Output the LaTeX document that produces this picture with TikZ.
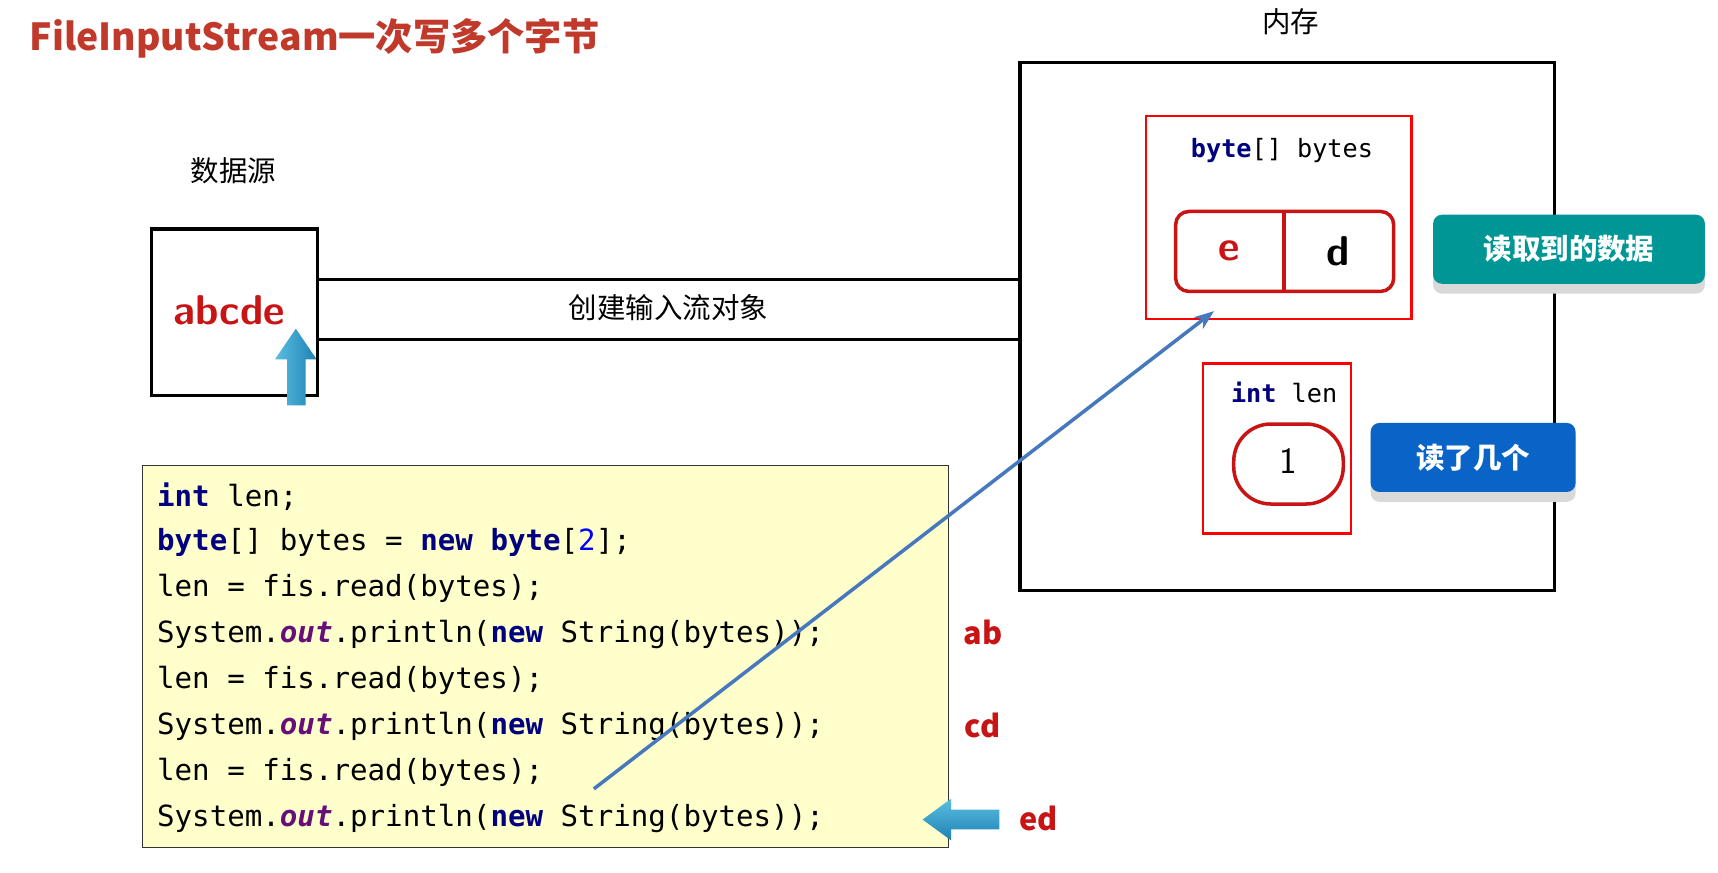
\documentclass[tikz,border=0pt]{standalone}
\usepackage{fontspec}
\setmainfont{Noto Sans CJK SC}
\newfontfamily\cjk{Noto Sans CJK SC}
\newfontfamily\cmono{DejaVu Sans Mono}
\usetikzlibrary{arrows.meta}
\definecolor{tred}{RGB}{192,57,43}
\definecolor{kw}{RGB}{0,0,128}
\definecolor{pur}{RGB}{102,14,122}
\definecolor{cred}{RGB}{200,20,20}
\definecolor{teal}{RGB}{0,150,150}
\definecolor{bbl}{RGB}{10,100,200}
\definecolor{cy}{RGB}{90,190,225}
\definecolor{cyd}{RGB}{30,130,180}
\definecolor{ln}{RGB}{70,120,190}
\begin{document}
\begin{tikzpicture}[x=0.5pt,y=-0.5pt,
  code/.style={anchor=west,font=\cmono\fontsize{13.3}{15}\selectfont,inner sep=0},
  lab/.style={font=\cjk\bfseries\fontsize{14}{16}\selectfont,text=cred},
  big/.style={font=\sffamily\bfseries\fontsize{19}{21}\selectfont},
  btn/.style={font=\cjk\bfseries\fontsize{13}{15}\selectfont,text=white,rounded corners=4pt}]
\useasboundingbox (0,0) rectangle (1568,796);
\fill[white] (0,0) rectangle (1568,796);
\node[anchor=west,font=\cjk\bfseries\fontsize{17}{20}\selectfont,text=tred] (title) at (20,35) {FileInputStream一次写多个字节};
\node[font=\cjk\fontsize{13}{15}\selectfont] (mem) at (1178,20) {内存};
\draw[line width=1.5pt] (931,57) rectangle (1419,539);
\node[draw=red,line width=1.2pt,minimum width=121pt,minimum height=92.5pt] (bbox) at (1167,198.5) {};
\node[font=\cmono\fontsize{11.5}{13}\selectfont] (bl) at (1170,137) {\textbf{\color{kw}byte}[] bytes};
\draw[cred,line width=1.6pt,rounded corners=6pt] (1073,193) rectangle (1272,266);
\draw[cred,line width=1.6pt] (1172,193) -- (1172,266);
\node[big,text=cred] (e) at (1122,229) {e};
\node[big] (d) at (1221,229) {d};
\fill[gray!30,rounded corners=4pt] (1308,202) rectangle (1556,268);
\node[btn,fill=teal,minimum width=124pt,minimum height=31.5pt] (b1) at (1432,227.5) {读取到的数据};
\node[draw=red,line width=1.2pt,minimum width=67.5pt,minimum height=77.5pt] (ibox) at (1165.5,409.5) {};
\node[font=\cmono\fontsize{11.5}{13}\selectfont] (il) at (1172,358) {\textbf{\color{kw}int} len};
\draw[cred,line width=1.6pt,rounded corners=17pt] (1126,387) rectangle (1226,460);
\node[font=\sffamily\fontsize{17}{19}\selectfont] (one) at (1176,421) {1};
\fill[gray!30,rounded corners=4pt] (1251,392) rectangle (1438,458);
\node[btn,fill=bbl,minimum width=93.5pt,minimum height=31.5pt] (b2) at (1344.5,417.5) {读了几个};
\node[font=\cjk\fontsize{13}{15}\selectfont] (src) at (213,156) {数据源};
\draw[line width=1.5pt] (138,209) rectangle (290,361);
\node[big,text=cred] (abc) at (209,283) {abcde};
\draw[line width=1.5pt] (290,255) -- (931,255) (290,310) -- (931,310);
\node[font=\cjk\fontsize{13}{15}\selectfont] (cr) at (610,281) {创建输入流对象};
\shade[left color=cy,right color=cyd] (262,370) -- (262,328) -- (251,328) -- (270,300) -- (289,328) -- (279,328) -- (279,370) -- cycle;
\draw[fill={rgb,255:red,255;green,255;blue,204},draw=black!80] (130,425) rectangle (866,773);
\foreach \i/\t in {0/{\textbf{\color{kw}int} len;},
 1/{\textbf{\color{kw}byte}[] bytes = \textbf{\color{kw}new} \textbf{\color{kw}byte}[{\color{blue}2}];},
 2/{len = fis.read(bytes);},
 3/{System.\textbf{\textit{\color{pur}out}}.println(\textbf{\color{kw}new} String(bytes));},
 4/{len = fis.read(bytes);},
 5/{System.\textbf{\textit{\color{pur}out}}.println(\textbf{\color{kw}new} String(bytes));},
 6/{len = fis.read(bytes);},
 7/{System.\textbf{\textit{\color{pur}out}}.println(\textbf{\color{kw}new} String(bytes));}}
 \node[code] (c\i) at (143,453+42*\i) {\t};
\node[lab] (ab) at (897,577) {ab};
\node[lab] (cd) at (897,662) {cd};
\node[lab] (ed) at (948,747) {ed};
\shade[top color=cy,bottom color=cyd] (912,739) -- (868,739) -- (868,729) -- (842,748) -- (868,767) -- (868,757) -- (912,757) -- cycle;
\coordinate (s) at (542,720);
\coordinate (t) at (1108,284);
\draw[ln,line width=1.6pt,-{Stealth[length=9pt]}] (s) -- (t);
\end{tikzpicture}
\end{document}
